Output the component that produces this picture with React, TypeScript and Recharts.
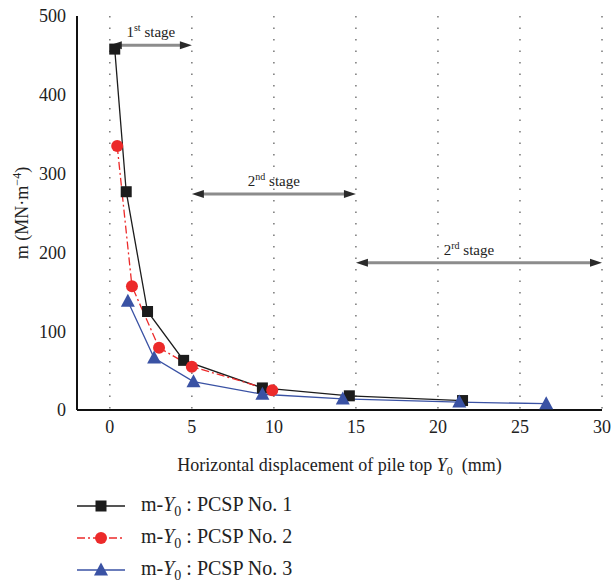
import React from 'react'
import { LineChart, Line, XAxis, YAxis, CartesianGrid, ReferenceLine, Legend } from 'recharts'

const FONT = 'Liberation Serif'

// axis ticks
const X_TICKS = [0, 5, 10, 15, 20, 25, 30]
const X_MAJOR_IN = [0, 5, 10, 15, 20, 25]
const X_MINOR = [2.5, 7.5, 12.5, 17.5, 22.5, 27.5]
const Y_TICKS = [0, 100, 200, 300, 400, 500]
const Y_MAJOR_IN = [100, 200, 300, 400]
const Y_MINOR = [50, 150, 250, 350, 450]

// m - Y0 measurements
const no1X = [0.3, 1.0, 2.3, 4.5, 9.3, 14.6, 21.5]
const no1Y = [458, 277, 125, 63, 28, 18, 12]
const no2X = [0.45, 1.35, 3.0, 5.0, 9.9]
const no2Y = [335, 157, 79, 55, 25]
const no3X = [1.1, 2.7, 5.1, 9.3, 14.2, 21.3, 26.6]
const no3Y = [138, 66, 36, 20, 14, 10, 8]

// stage arrows
const stageFrom = [0, 5, 15]
const stageTo = [5, 15, 30]
const stageY = [463, 274, 187]
const stageNum = ['1', '2', '2']
const stageSup = ['st', 'nd', 'rd']

const toPoints = (xs: number[], ys: number[]) => xs.map((x, i) => ({ x, y: ys[i] }))

const SERIES = [
  { id: 'no1', name: 'PCSP No. 1', color: '#1c1c1c', marker: 'square', dash: undefined as string | undefined, data: toPoints(no1X, no1Y) },
  { id: 'no2', name: 'PCSP No. 2', color: '#ec2a2a', marker: 'circle', dash: '8 3 2 3', data: toPoints(no2X, no2Y) },
  { id: 'no3', name: 'PCSP No. 3', color: '#3a52a4', marker: 'triangle', dash: undefined, data: toPoints(no3X, no3Y) },
]

const Marker = ({ kind, cx, cy, color }: { kind: string; cx: number; cy: number; color: string }) => {
  if (kind === 'square') return <rect x={cx - 5.5} y={cy - 5.5} width={11} height={11} fill={color} />
  if (kind === 'circle') return <circle cx={cx} cy={cy} r={6} fill={color} />
  return <polygon points={`${cx},${cy - 7.5} ${cx - 7},${cy + 5.5} ${cx + 7},${cy + 5.5}`} fill={color} />
}

const arrowShape = (num: string, sup: string, shift: number) => (p: any) => {
  const { x1, y1, x2, y2 } = p
  const L = 12
  const H = 4
  const mid = (x1 + x2) / 2 + shift
  return (
    <g>
      <line x1={x1 + L - 2} y1={y1} x2={x2 - L + 2} y2={y2} stroke="#8c8c8c" strokeWidth={3} />
      <polygon points={`${x1},${y1} ${x1 + L},${y1 - H} ${x1 + L},${y1 + H}`} fill="#2a2a2a" />
      <polygon points={`${x2},${y2} ${x2 - L},${y2 - H} ${x2 - L},${y2 + H}`} fill="#2a2a2a" />
      <text x={mid} y={y1 - 8} textAnchor="middle" fontSize={15} fill="#222" fontFamily={FONT}>
        {num}
        <tspan fontSize={10} dy={-6}>{sup}</tspan>
        <tspan dy={6}>{'\u00a0stage'}</tspan>
      </text>
    </g>
  )
}

const LegendBox = () => (
  <div style={{ fontFamily: FONT, fontSize: 20, color: '#222' }}>
    {SERIES.map(s => (
      <div key={s.id} style={{ display: 'flex', alignItems: 'center', height: 32 }}>
        <svg width={64} height={20} style={{ marginLeft: 77 }}>
          <line x1={0} y1={10} x2={48} y2={10} stroke={s.color} strokeWidth={1.5} strokeDasharray={s.dash} />
          <Marker kind={s.marker} cx={24} cy={10} color={s.color} />
        </svg>
        <span style={{ fontFamily: FONT }}>
          m-<i>Y</i><sub style={{ fontSize: 14 }}>0</sub> : {s.name}
        </span>
      </div>
    ))}
  </div>
)

const axisStroke = { stroke: '#111', strokeWidth: 2 }
const tickStyle = { fontSize: 18, fill: '#222', fontFamily: FONT }

export default function App() {
  return (
    <div style={{ position: 'absolute', left: 0, top: 0, width: 612, height: 584, background: '#fff', fontFamily: FONT }}>
      <LineChart
        width={612}
        height={584}
        margin={{ top: 16, right: 10, left: 0, bottom: 104 }}
        style={{ fontFamily: FONT }}
      >
        {/* inward tick marks */}
        <XAxis xAxisId="bMaj" type="number" dataKey="x" domain={[-2, 30]} ticks={X_MAJOR_IN} mirror height={0} tick={false} tickSize={7} tickLine={axisStroke} axisLine={false} />
        <XAxis xAxisId="bMin" type="number" dataKey="x" domain={[-2, 30]} ticks={X_MINOR} mirror height={0} tick={false} tickSize={4} tickLine={axisStroke} axisLine={false} />
        <XAxis xAxisId="tMaj" orientation="top" type="number" dataKey="x" domain={[-2, 30]} ticks={X_MAJOR_IN} mirror height={0} tick={false} tickSize={7} tickLine={axisStroke} axisLine={axisStroke} />
        <XAxis xAxisId="tMin" orientation="top" type="number" dataKey="x" domain={[-2, 30]} ticks={X_MINOR} mirror height={0} tick={false} tickSize={4} tickLine={axisStroke} axisLine={false} />
        <YAxis yAxisId="lMaj" type="number" domain={[0, 500]} ticks={Y_MAJOR_IN} mirror width={0} tick={false} tickSize={7} tickLine={axisStroke} axisLine={false} />
        <YAxis yAxisId="lMin" type="number" domain={[0, 500]} ticks={Y_MINOR} mirror width={0} tick={false} tickSize={4} tickLine={axisStroke} axisLine={false} />
        <YAxis yAxisId="rMaj" orientation="right" type="number" domain={[0, 500]} ticks={Y_MAJOR_IN} mirror width={0} tick={false} tickSize={7} tickLine={axisStroke} axisLine={axisStroke} />
        <YAxis yAxisId="rMin" orientation="right" type="number" domain={[0, 500]} ticks={Y_MINOR} mirror width={0} tick={false} tickSize={4} tickLine={axisStroke} axisLine={false} />

        <XAxis
          xAxisId="main"
          type="number"
          dataKey="x"
          domain={[-2, 30]}
          ticks={X_TICKS}
          allowDataOverflow
          height={70}
          tickLine={false}
          tickSize={0}
          tickMargin={10}
          axisLine={axisStroke}
          tick={tickStyle}
          label={{
            content: (p: any) => {
              const vb = p.viewBox
              return (
                <text x={vb.x + vb.width / 2} y={vb.y + 61} textAnchor="middle" fontSize={18} fill="#222" fontFamily={FONT}>
                  Horizontal displacement of pile top <tspan fontStyle="italic">Y</tspan>
                  <tspan fontSize={12} dy={4}>0</tspan>
                  <tspan dy={-4}>{'\u00a0\u00a0(mm)'}</tspan>
                </text>
              )
            },
          }}
        />
        <YAxis
          yAxisId="main"
          type="number"
          domain={[0, 500]}
          ticks={Y_TICKS}
          allowDataOverflow
          width={77}
          tickLine={false}
          tickSize={0}
          tickMargin={11}
          axisLine={axisStroke}
          tick={tickStyle}
          label={{
            content: (p: any) => {
              const vb = p.viewBox
              const cx = 28
              const cy = vb.y + vb.height / 2
              return (
                <text x={cx} y={cy} transform={`rotate(-90 ${cx} ${cy})`} textAnchor="middle" fontSize={18} fill="#222" fontFamily={FONT}>
                  m (MN·m<tspan fontSize={12} dy={-7}>−4</tspan>
                  <tspan dy={7}>)</tspan>
                </text>
              )
            },
          }}
        />

        <CartesianGrid xAxisId="main" yAxisId="main" horizontal={false} stroke="#777" strokeWidth={1.5} strokeDasharray="1.5 10" />

        {stageFrom.map((f, i) => (
          <ReferenceLine
            key={`stage-${i}`}
            xAxisId="main"
            yAxisId="main"
            ifOverflow="visible"
            segment={[{ x: f, y: stageY[i] }, { x: stageTo[i], y: stageY[i] }]}
            shape={arrowShape(stageNum[i], stageSup[i], i === 2 ? -10 : 0)}
          />
        ))}

        {SERIES.map(s => (
          <Line
            key={s.id}
            xAxisId="main"
            yAxisId="main"
            data={s.data}
            dataKey="y"
            name={s.name}
            type="linear"
            stroke={s.color}
            strokeWidth={1.3}
            strokeDasharray={s.dash}
            isAnimationActive={false}
            dot={(p: any) => <Marker key={`${s.id}-${p.index}`} kind={s.marker} cx={p.cx} cy={p.cy} color={s.color} />}
            activeDot={false}
          />
        ))}

        <Legend
          layout="horizontal"
          verticalAlign="middle"
          align="center"
          content={() => <LegendBox />}
          wrapperStyle={{ top: 490, left: 0, width: 612 }}
        />
      </LineChart>
    </div>
  )
}
